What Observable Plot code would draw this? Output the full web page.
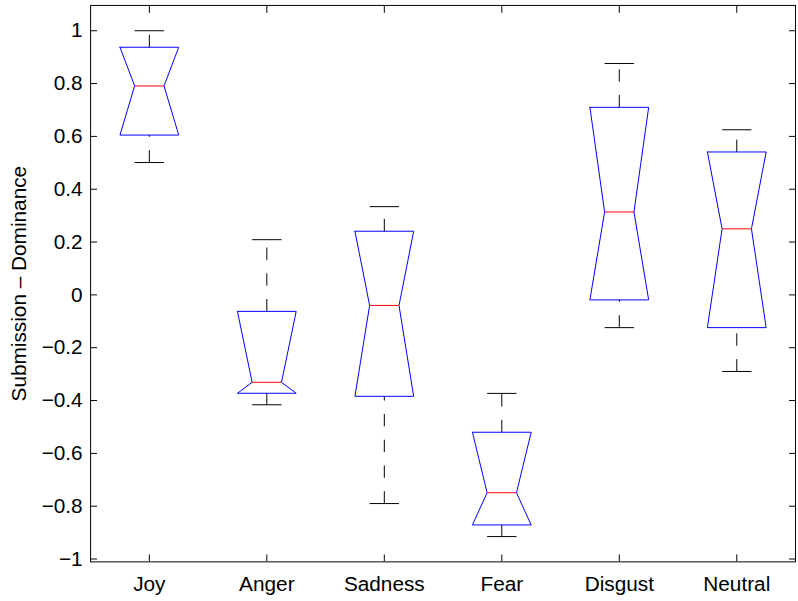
<!DOCTYPE html>
<html>
<head>
<meta charset="utf-8">
<script src="https://cdn.jsdelivr.net/npm/d3@7"></script>
<script src="https://cdn.jsdelivr.net/npm/@observablehq/plot@0.6"></script>
<style>
  html, body { margin: 0; padding: 0; background: white; overflow: hidden; }
  #chart svg { display: block; }
</style>
</head>
<body>
<div id="chart"></div>
<script>
const categories = ["Joy", "Anger", "Sadness", "Fear", "Disgust", "Neutral"];
const whiskerHigh = [1.0, 0.209, 0.334, -0.373, 0.876, 0.625];
const upperQuartile = [0.9375, -0.0625, 0.241, -0.52, 0.71, 0.541];
const medians = [0.791, -0.331, -0.040, -0.749, 0.314, 0.25];
const lowerQuartile = [0.605, -0.3725, -0.384, -0.871, -0.019, -0.124];
const whiskerLow = [0.501, -0.416, -0.79, -0.915, -0.124, -0.29];
const yTicks = [-1, -0.8, -0.6, -0.4, -0.2, 0, 0.2, 0.4, 0.6, 0.8, 1];
const yLabel = "Submission – Dominance";

const boxHalf = 0.25;
const notchHalf = 0.125;

const boxes = categories.map((c, i) => ({
  cat: c, pos: i + 1,
  hi: whiskerHigh[i], q3: upperQuartile[i], med: medians[i],
  q1: lowerQuartile[i], lo: whiskerLow[i]
}));

// notched box outline: corners of box to median at the notch
const outline = boxes.flatMap(b => [
  {cat: b.cat, x: b.pos - boxHalf, y: b.q3},
  {cat: b.cat, x: b.pos + boxHalf, y: b.q3},
  {cat: b.cat, x: b.pos + notchHalf, y: b.med},
  {cat: b.cat, x: b.pos + boxHalf, y: b.q1},
  {cat: b.cat, x: b.pos - boxHalf, y: b.q1},
  {cat: b.cat, x: b.pos - notchHalf, y: b.med},
  {cat: b.cat, x: b.pos - boxHalf, y: b.q3}
]);

const dataMin = d3.min(whiskerLow), dataMax = d3.max(whiskerHigh);
const pad = 0.05 * (dataMax - dataMin);

const fmtY = d => d === 0 ? "0" : (d < 0 ? "\u2212" : "") + String(+Math.abs(d).toFixed(1));

const chart = Plot.plot({
  width: 806,
  height: 601,
  marginLeft: 91,
  marginRight: 3,
  marginTop: 5,
  marginBottom: 34,
  style: {
    fontSize: "21px",
    fontFamily: "'Liberation Sans', Arial, Helvetica, sans-serif",
    color: "black",
    background: "white",
    overflow: "visible"
  },
  x: {domain: [0.5, categories.length + 0.5]},
  y: {domain: [dataMin - pad, dataMax + pad]},
  marks: [
    // whiskers (dashed), drawn upward
    Plot.link(boxes, {x1: "pos", x2: "pos", y1: "q3", y2: "hi", stroke: "black", strokeWidth: 1, strokeDasharray: "12.5,13.5"}),
    Plot.link(boxes, {x1: "pos", x2: "pos", y1: "lo", y2: "q1", stroke: "black", strokeWidth: 1, strokeDasharray: "12.5,13.5"}),
    // whisker caps
    Plot.link(boxes, {x1: d => d.pos - notchHalf, x2: d => d.pos + notchHalf, y1: "hi", y2: "hi", stroke: "black", strokeWidth: 1}),
    Plot.link(boxes, {x1: d => d.pos - notchHalf, x2: d => d.pos + notchHalf, y1: "lo", y2: "lo", stroke: "black", strokeWidth: 1}),
    // notched boxes
    Plot.line(outline, {x: "x", y: "y", z: "cat", stroke: "#0000ff", strokeWidth: 1, curve: "linear"}),
    // medians
    Plot.link(boxes, {x1: d => d.pos - notchHalf, x2: d => d.pos + notchHalf, y1: "med", y2: "med", stroke: "#ff0000", strokeWidth: 1}),
    Plot.frame({stroke: "black", strokeWidth: 1}),
    Plot.axisY({anchor: "left", ticks: yTicks, tickSize: -7, tickPadding: 15, tickFormat: fmtY, label: null}),
    Plot.axisY({anchor: "right", ticks: yTicks, tickSize: -7, tickFormat: () => "", label: null}),
    Plot.axisX({anchor: "bottom", ticks: d3.range(1, categories.length + 1), tickSize: -7, tickPadding: 22, tickFormat: d => categories[d - 1], label: null}),
    Plot.axisX({anchor: "top", ticks: d3.range(1, categories.length + 1), tickSize: -7, tickFormat: () => "", label: null}),
    Plot.text([yLabel], {text: d => d, frameAnchor: "left", rotate: -90, dx: -72, textAnchor: "middle", fill: "black"})
  ]
});
document.getElementById("chart").appendChild(chart);
</script>
</body>
</html>
